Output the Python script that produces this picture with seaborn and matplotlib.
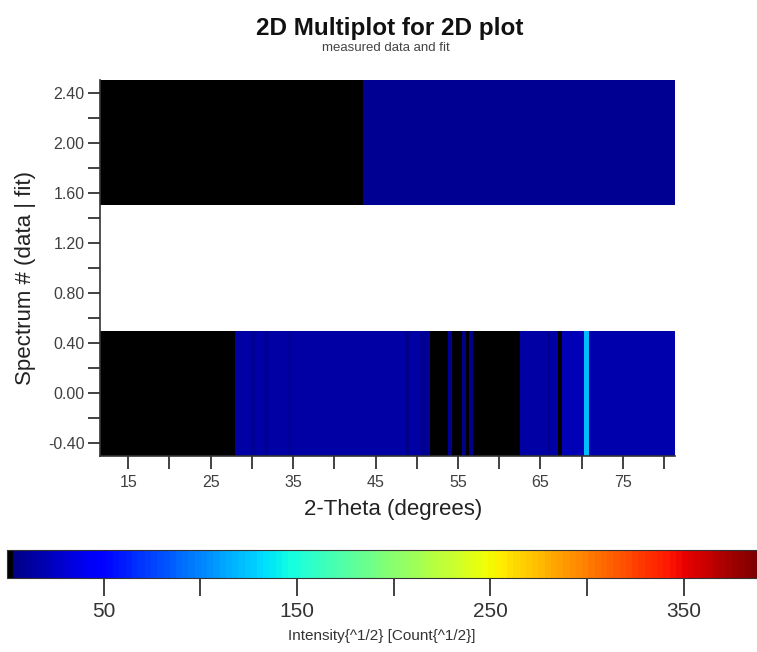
import numpy as np
import matplotlib
matplotlib.use("Agg")
import matplotlib.pyplot as plt
from matplotlib.colors import ListedColormap
from matplotlib.ticker import FixedLocator, MultipleLocator, FormatStrFormatter
import seaborn as sns

# ---------------- data ----------------
theta_range = [11.57, 81.33]

# spectrum 0 : measured data  (2-theta segment edges and sqrt-intensity per segment)
data_edges = [11.57, 27.95, 29.95, 30.4, 31.6, 32.0, 34.4, 34.8, 48.6, 49.0,
              50.4, 51.2, 51.6, 53.8, 54.3, 55.5, 56.0, 56.3, 56.8, 62.5,
              65.8, 66.2, 67.1, 67.6, 70.35, 70.85, 81.33]
data_values = [0, 14, 7, 14, 6, 14, 10, 14, 5, 14,
               7, 12, 0, 8, 0, 6, 2, 6, 0, 15,
               6, 15, 0, 21, 122, 17]

# spectrum 2 : fit
fit_edges = [11.57, 43.5, 81.33]
fit_values = [0, 9]

spectra = [0, 2]
x_major = [15, 25, 35, 45, 55, 65, 75]
x_minor = [20, 30, 40, 50, 60, 70, 80]
cbar_major = [50, 150, 250, 350]
cbar_minor = [100, 200, 300]
vmin, vmax = 0, 388

# ---------------- style ----------------
sns.set_style("ticks")
plt.rcParams['font.family'] = ['Liberation Sans', 'DejaVu Sans']

jet = plt.get_cmap('jet')
cols = jet(np.linspace(0, 1, 120))
cols[0] = [0, 0, 0, 1]
cmap = ListedColormap(cols)

fig = plt.figure(figsize=(7.57, 6.52), dpi=100)
W, H = 757, 652
ax = fig.add_axes([100 / W, 1 - 456 / H, 575 / W, 376 / H])

mesh = None
for spec, edges, vals in [(spectra[0], data_edges, data_values),
                          (spectra[1], fit_edges, fit_values)]:
    mesh = ax.pcolormesh(edges, [spec - 0.5, spec + 0.5], np.array([vals], dtype=float),
                         cmap=cmap, vmin=vmin, vmax=vmax, shading='flat')

ax.set_xlim(*theta_range)
ax.set_ylim(-0.5, 2.5)
sns.despine(ax=ax, top=True, right=True)
for s in ['left', 'bottom']:
    ax.spines[s].set_linewidth(1.2)
    ax.spines[s].set_color('#333333')

ax.xaxis.set_major_locator(FixedLocator(x_major))
ax.xaxis.set_minor_locator(FixedLocator(x_minor))
ax.yaxis.set_major_locator(MultipleLocator(0.4))
ax.yaxis.set_minor_locator(MultipleLocator(0.2))
ax.yaxis.set_major_formatter(FormatStrFormatter('%.2f'))
ax.tick_params(which='both', direction='out', length=9, width=1.3, color='#333333',
               labelsize=11.5, labelcolor='#404040')
ax.tick_params(axis='x', which='both', pad=5)
ax.tick_params(axis='y', which='both', pad=2)

fig.text(25 / W, 1 - 278 / H, 'Spectrum # (data | fit)', rotation=90,
         ha='center', va='center', fontsize=16, color='#222222')
fig.text(393 / W, 1 - 510 / H, '2-Theta (degrees)', ha='center', va='center',
         fontsize=16, color='#222222')
fig.text(390 / W, 1 - 28 / H, '2D Multiplot for 2D plot', ha='center', va='center',
         fontsize=17.5, fontweight='bold', color='#111111')
fig.text(386 / W, 1 - 48 / H, 'measured data and fit', ha='center', va='center',
         fontsize=9.5, color='#444444')

# colorbar
cax = fig.add_axes([7 / W, 1 - 578 / H, 750 / W, 28 / H])
cb = fig.colorbar(mesh, cax=cax, orientation='horizontal')
cb.outline.set_linewidth(0.8)
cb.outline.set_edgecolor('#333333')
cax.xaxis.set_major_locator(FixedLocator(cbar_major))
cax.xaxis.set_minor_locator(FixedLocator(cbar_minor))
cax.tick_params(which='both', direction='out', length=13, width=1.3, color='#333333',
                labelsize=15, labelcolor='#333333', pad=4)
fig.text(382 / W, 1 - 636 / H, 'Intensity{^1/2} [Count{^1/2}]', ha='center', va='center',
         fontsize=11, color='#333333')

fig.savefig('out.png', dpi=100)
